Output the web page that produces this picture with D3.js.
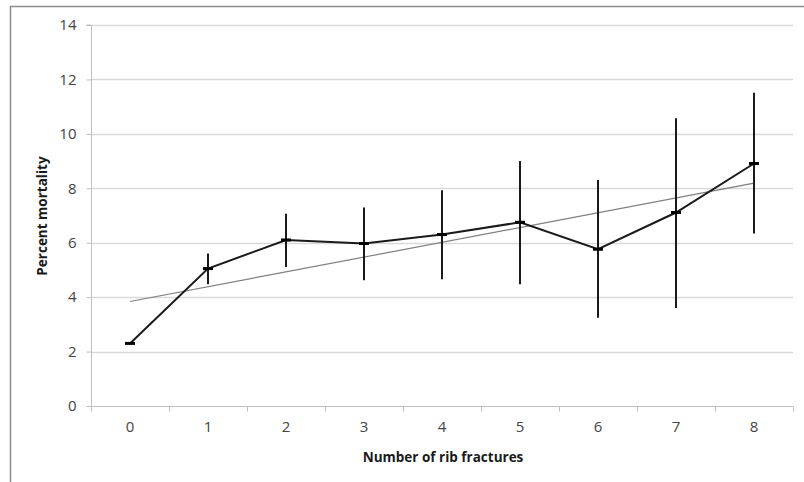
<!DOCTYPE html>
<html>
<head>
<meta charset="utf-8">
<script src="https://cdn.jsdelivr.net/npm/d3@7"></script>
<style>
  html, body { margin: 0; padding: 0; background: #fff; }
  svg { display: block; }
</style>
</head>
<body>
<svg id="chart" width="804" height="482"></svg>
<script>
const categories = ["0", "1", "2", "3", "4", "5", "6", "7", "8"];
const mortality = [2.3, 5.05, 6.1, 5.97, 6.3, 6.75, 5.76, 7.11, 8.91];
const errLow = [2.3, 4.47, 5.11, 4.62, 4.66, 4.47, 3.24, 3.6, 6.34];
const errHigh = [2.3, 5.6, 7.06, 7.29, 7.93, 9.0, 8.3, 10.57, 11.51];
const trendEnds = [3.84, 8.19];
const yTicks = [0, 2, 4, 6, 8, 10, 12, 14];

const svg = d3.select("#chart");
const m = { left: 91, right: 793, top: 25, bottom: 406 };

// outer frame
svg.append("path")
  .attr("d", "M10.5,490 L10.5,6.5 L810,6.5")
  .attr("fill", "none").attr("stroke", "#8c8c8c").attr("stroke-width", 1.5);

const x = d3.scaleBand().domain(categories).range([m.left, m.right]).paddingInner(0).paddingOuter(0);
const y = d3.scaleLinear().domain([0, 14]).range([m.bottom, m.top]);
const cx = d => x(d) + x.bandwidth() / 2;

// gridlines
svg.append("g").selectAll("line").data(yTicks.filter(t => t > 0)).join("line")
  .attr("x1", m.left).attr("x2", m.right)
  .attr("y1", d => Math.round(y(d)) + 0.5).attr("y2", d => Math.round(y(d)) + 0.5)
  .attr("stroke", "#d9d9d9").attr("stroke-width", 1.5);

const tickFont = "'Open Sans', sans-serif";

// y axis
const yAxis = d3.axisLeft(y).tickValues(yTicks).tickSize(5).tickPadding(10).tickFormat(d3.format("d"));
const gy = svg.append("g").attr("transform", `translate(${m.left + 0.5},0)`).call(yAxis);
gy.attr("font-size", null).attr("font-family", null);
gy.select(".domain").attr("stroke", "#bfbfbf").attr("d", `M-5,${m.top}H0V${m.bottom}`);
gy.selectAll(".tick line").attr("stroke", "#bfbfbf");
gy.selectAll(".tick text").attr("fill", "#444").attr("font-family", tickFont).attr("font-size", 15);

// x axis
const xAxis = d3.axisBottom(x).tickSize(0).tickPadding(15);
const gx = svg.append("g").attr("transform", `translate(0,${m.bottom + 0.5})`).call(xAxis);
gx.attr("font-size", null).attr("font-family", null);
gx.select(".domain").attr("stroke", "#bfbfbf").attr("d", `M${m.left},0H${m.right}`);
gx.selectAll(".tick text").attr("fill", "#444").attr("font-family", tickFont).attr("font-size", 15);
// boundary tick marks
const bounds = categories.map(c => x(c)).concat([m.right]);
gx.append("g").selectAll("line").data(bounds).join("line")
  .attr("x1", d => Math.round(d) + 0.5).attr("x2", d => Math.round(d) + 0.5)
  .attr("y1", 0).attr("y2", 5).attr("stroke", "#bfbfbf");

// trend line
svg.append("line")
  .attr("x1", cx(categories[0])).attr("x2", cx(categories[categories.length - 1]))
  .attr("y1", y(trendEnds[0])).attr("y2", y(trendEnds[1]))
  .attr("stroke", "#7f7f7f").attr("stroke-width", 1.2);

// error bars
svg.append("g").selectAll("line").data(categories).join("line")
  .attr("x1", d => cx(d)).attr("x2", d => cx(d))
  .attr("y1", (d, i) => y(errLow[i])).attr("y2", (d, i) => y(errHigh[i]))
  .attr("stroke", "#1a1a1a").attr("stroke-width", 2);

// data line
const line = d3.line().x((d, i) => cx(categories[i])).y(d => y(d));
svg.append("path").datum(mortality).attr("d", line)
  .attr("fill", "none").attr("stroke", "#1a1a1a").attr("stroke-width", 2);

// dash markers
svg.append("g").selectAll("line").data(mortality).join("line")
  .attr("x1", (d, i) => cx(categories[i]) - 5).attr("x2", (d, i) => cx(categories[i]) + 5)
  .attr("y1", d => y(d)).attr("y2", d => y(d))
  .attr("stroke", "#000").attr("stroke-width", 3);

// axis titles
svg.append("text")
  .attr("x", 443).attr("y", 462).attr("text-anchor", "middle")
  .attr("fill", "#1a1a1a")
  .style("font-family", tickFont).style("font-size", "13.5px").style("font-weight", "bold")
  .text("Number of rib fractures");
svg.append("text")
  .attr("transform", "translate(47,216) rotate(-90)").attr("text-anchor", "middle")
  .attr("fill", "#1a1a1a")
  .style("font-family", tickFont).style("font-size", "13.5px").style("font-weight", "bold")
  .text("Percent mortality");
</script>
</body>
</html>
